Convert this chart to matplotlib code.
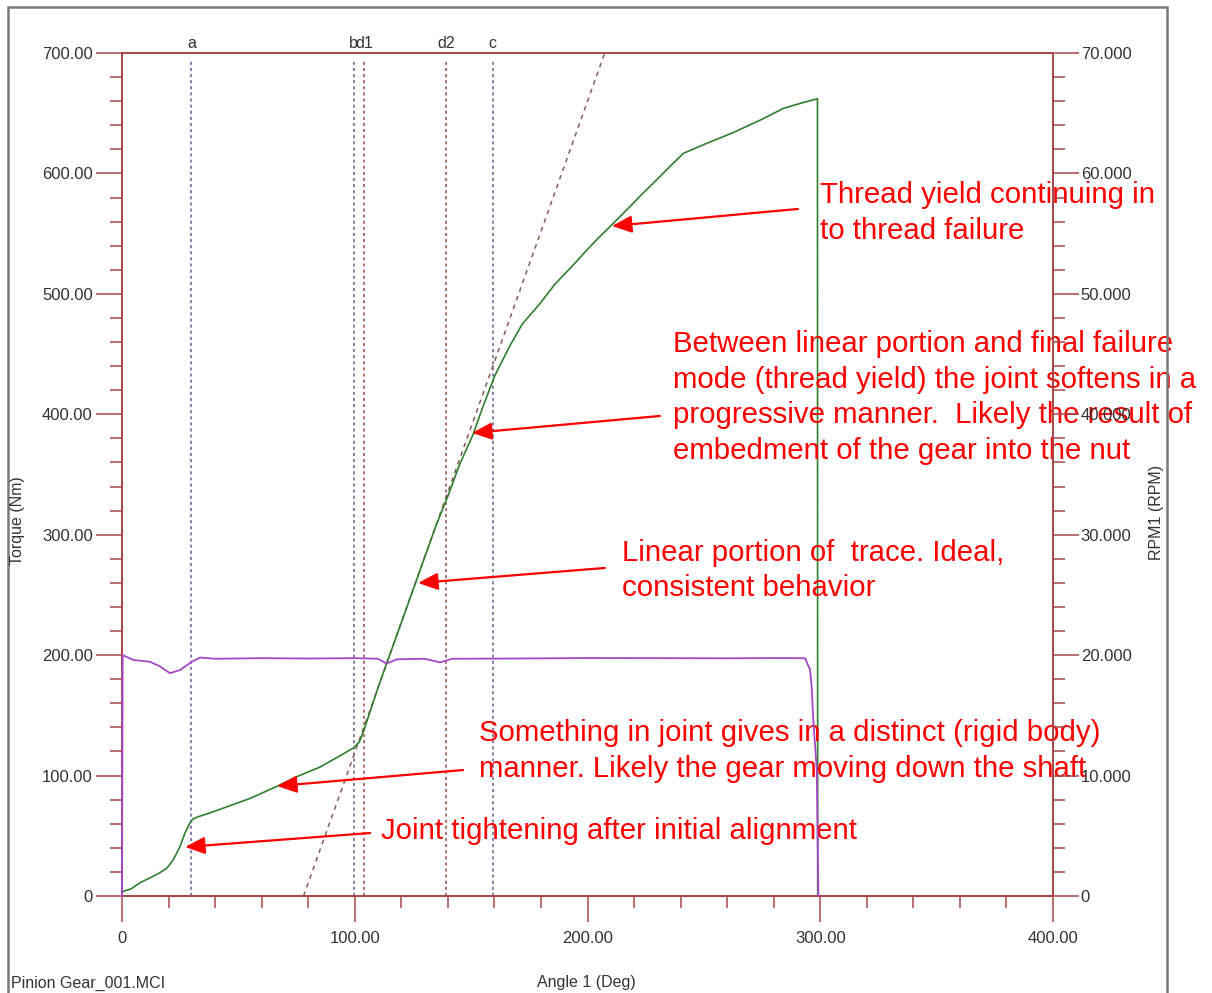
import matplotlib
matplotlib.use("Agg")
import matplotlib.pyplot as plt
from matplotlib.ticker import MultipleLocator, FuncFormatter
from matplotlib.transforms import blended_transform_factory
from matplotlib.patches import Rectangle

# ---------------- data ----------------
torque_angle = [0, 1.3, 4, 7.7, 12, 16, 19.2, 22, 24.9, 27, 29, 30.5, 33, 37.8, 45, 55,
                66.5, 75, 85, 93, 99.5, 102, 104, 110, 120, 130, 135, 140, 145, 151, 155,
                160.3, 166.7, 172, 179.6, 186, 193.9, 200, 205, 211.1, 218, 223, 228.3, 235,
                241.2, 250, 262.7, 275, 284.1, 292, 298.8, 298.9]
torque_nm = [3, 4.4, 6, 11, 15, 19, 23, 30, 41, 52, 60, 64, 66, 69, 74, 81,
             91, 99, 107, 115.7, 123, 128, 138, 173, 227, 281, 308, 332, 358, 384, 406,
             432.6, 457, 475, 492, 508, 524, 537, 547, 558.6, 572, 582, 592, 605,
             616.7, 624, 634, 645, 654, 658.5, 662, 0]

rpm_angle = [0, 0.3, 4.9, 12, 16, 20.6, 25, 30, 33.5, 40, 60, 80, 100, 110, 113.7, 118,
             130, 136.6, 142, 170, 200, 230, 260, 285, 293.5, 295.6, 296.3, 297, 298.5, 299.2]
rpm_val = [0, 20.0, 19.6, 19.45, 19.1, 18.5, 18.77, 19.45, 19.8, 19.7, 19.75, 19.72, 19.75,
           19.7, 19.3, 19.65, 19.7, 19.4, 19.7, 19.72, 19.76, 19.75, 19.74, 19.76, 19.74,
           18.8, 17.4, 14.6, 10.5, 0]

fit_x = [78.0, 207.4]
fit_y = [0, 700]

cursor_names = ["a", "b", "d1", "d2", "c"]
cursor_pos = [29.8, 99.6, 104.0, 139.2, 159.3]
cursor_kind = ["p", "p", "r", "r", "p"]

notes = [
    "Thread yield continuing in\nto thread failure",
    "Between linear portion and final failure\nmode (thread yield) the joint softens in a\n"
    "progressive manner.  Likely the result of\nembedment of the gear into the nut",
    "Linear portion of  trace. Ideal,\nconsistent behavior",
    "Something in joint gives in a distinct (rigid body)\nmanner. Likely the gear moving down the shaft",
    "Joint tightening after initial alignment",
]
note_text_xy = [(299.9, 567.1), (236.7, 413.9), (214.8, 270.3), (153.4, 120.4), (111.3, 54.0)]
note_tail = [(290.4, 570.5), (231.1, 398.6), (207.5, 272.4), (146.5, 104.6), (106.6, 52.3)]
note_tip = [(210.5, 556.3), (150.4, 384.5), (127.2, 259.9), (66.6, 91.3), (27.1, 40.7)]

# ---------------- style ----------------
plt.rcParams['font.family'] = ['Liberation Sans', 'DejaVu Sans']
axcol = "#a84848"
txtcol = "#333333"
W, H = 1212, 993
fig = plt.figure(figsize=(W / 100, H / 100), dpi=100)
ax = fig.add_axes([122 / W, 1 - 896 / H, (1053 - 122) / W, (896 - 53) / H])
ax2 = ax.twinx()

for a in (ax, ax2):
    for s in a.spines.values():
        s.set_color(axcol)
        s.set_linewidth(1.3)
    a.tick_params(which='major', length=19, width=1.1, color=axcol, labelcolor=txtcol,
                  labelsize=12, direction='out')
    a.tick_params(which='minor', length=8.5, width=1.1, color=axcol, direction='out')

ax.set_xlim(0, 400)
ax.set_ylim(0, 700)
ax2.set_ylim(0, 70)
ax.xaxis.set_major_locator(MultipleLocator(100))
ax.xaxis.set_minor_locator(MultipleLocator(20))
ax.yaxis.set_major_locator(MultipleLocator(100))
ax.yaxis.set_minor_locator(MultipleLocator(20))
ax2.yaxis.set_major_locator(MultipleLocator(10))
ax2.yaxis.set_minor_locator(MultipleLocator(2))
ax.xaxis.set_major_formatter(FuncFormatter(lambda v, p: "0" if v == 0 else f"{v:.2f}"))
ax.yaxis.set_major_formatter(FuncFormatter(lambda v, p: "0" if v == 0 else f"{v:.2f}"))
ax2.yaxis.set_major_formatter(FuncFormatter(lambda v, p: "0" if v == 0 else f"{v:.3f}"))
ax.tick_params(axis='y', pad=2)
ax2.tick_params(axis='y', pad=1)
ax.tick_params(axis='x', pad=6)

# cursors
tr = blended_transform_factory(ax.transData, ax.transAxes)
for name, pos, kind in zip(cursor_names, cursor_pos, cursor_kind):
    col = "#6a5a9a" if kind == "p" else "#9a4a45"
    ax.axvline(pos, ymin=0, ymax=0.993, color=col, lw=1.1, dashes=(2, 2), zorder=1)
    ax.annotate(name, xy=(pos, 1.0), xycoords=tr, xytext=(0, 1.5), textcoords='offset points',
                ha='center', va='bottom', fontsize=11.5, color=txtcol, annotation_clip=False)

# fit line
ax.plot(fit_x, fit_y, color="#8a5a55", lw=1.1, dashes=(3, 3), zorder=2)

# torque trace
ax.plot(torque_angle, torque_nm, color="#2f7f2f", lw=1.2, zorder=3)

# rpm trace
ax2.plot(rpm_angle, rpm_val, color="#a548c8", lw=1.3, zorder=3, clip_on=False)

# annotations
for txt, (tx, ty), tail, tip in zip(notes, note_text_xy, note_tail, note_tip):
    ax.text(tx, ty, txt, color="#ff0000", fontsize=21.2, ha='left', va='center',
            linespacing=1.35, zorder=6)
    ax.annotate("", xy=tip, xytext=tail, zorder=6,
                arrowprops=dict(arrowstyle='-|>,head_length=0.6,head_width=0.26',
                                mutation_scale=20, color="#ff0000", lw=1.6,
                                shrinkA=0, shrinkB=0))

# axis labels
fig.text(18 / W, 1 - 521 / H, "Torque (Nm)", rotation=90, ha='center', va='center',
         fontsize=11.5, color=txtcol)
fig.text(1157 / W, 1 - 512 / H, "RPM1 (RPM)", rotation=90, ha='center', va='center',
         fontsize=11.5, color=txtcol)
fig.text(586 / W, 1 - 983 / H, "Angle 1 (Deg)", ha='center', va='center',
         fontsize=11.5, color=txtcol)
fig.text(11 / W, 1 - 983 / H, "Pinion Gear_001.MCI", ha='left', va='center',
         fontsize=11.5, color=txtcol)

# outer frame
fig.add_artist(Rectangle((8 / W, -0.05), (1167 - 8) / W, 1 - 7 / H + 0.05,
                         transform=fig.transFigure, fill=False, edgecolor="#7a7a7a",
                         lw=1.8))

fig.savefig("out.png", dpi=100)
